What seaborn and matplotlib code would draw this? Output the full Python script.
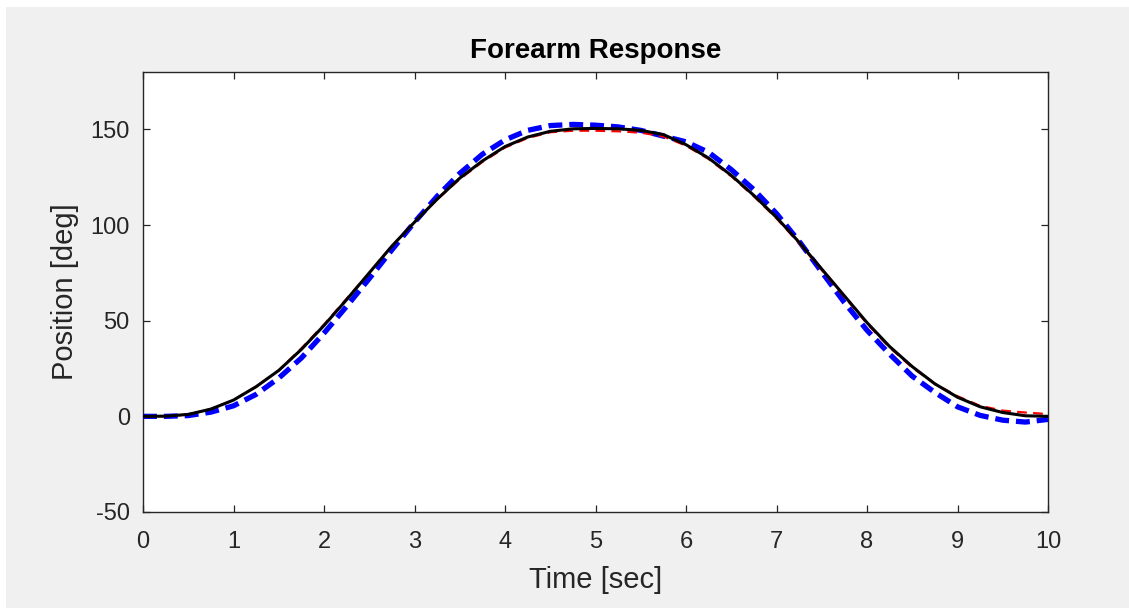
import matplotlib
matplotlib.use("Agg")
import matplotlib.pyplot as plt
import seaborn as sns
import pandas as pd
from matplotlib.patches import Rectangle

# ---- data ----
time_sec = [0.0, 0.25, 0.5, 0.75, 1.0, 1.25, 1.5, 1.75, 2.0, 2.25, 2.5, 2.75,
            3.0, 3.25, 3.5, 3.75, 4.0, 4.25, 4.5, 4.75, 5.0, 5.25, 5.5, 5.75,
            6.0, 6.25, 6.5, 6.75, 7.0, 7.25, 7.5, 7.75, 8.0, 8.25, 8.5, 8.75,
            9.0, 9.25, 9.5, 9.75, 10.0]

desired = [0.0, 0.1, 1.0, 3.8, 8.5, 15.5, 24.0, 35.0, 47.5, 61.0, 75.0, 89.0,
           101.5, 113.5, 124.5, 133.5, 141.0, 146.0, 149.0, 150.3, 150.5, 150.3, 149.5, 147.3,
           142.0, 135.0, 126.0, 115.5, 104.0, 91.0, 77.0, 63.0, 49.0, 36.5, 26.0, 17.0,
           10.0, 5.0, 2.0, 0.3, 0.0]

model = [0.0, 0.1, 1.0, 3.8, 8.5, 15.5, 24.0, 35.5, 48.0, 61.5, 75.0, 89.0,
         101.5, 113.5, 124.0, 133.0, 140.5, 145.5, 148.5, 149.3, 149.3, 149.0, 148.3, 146.3,
         141.5, 134.5, 125.5, 115.0, 103.5, 90.5, 76.5, 62.5, 48.5, 36.0, 25.5, 17.0,
         10.5, 5.5, 3.0, 2.0, 1.2]

measured = [0.0, 0.0, 0.4, 2.2, 5.5, 11.5, 20.0, 30.5, 43.5, 57.5, 72.0, 87.0,
            101.5, 115.0, 127.0, 137.0, 144.5, 149.5, 152.0, 152.6, 152.2, 151.3, 149.5, 146.5,
            143.5, 138.0, 129.0, 118.5, 106.0, 91.5, 75.5, 59.5, 45.0, 32.5, 21.0, 12.5,
            5.0, 0.5, -2.0, -3.0, -1.6]

title_text = "Forearm Response"
x_label = "Time [sec]"
y_label = "Position [deg]"
x_ticks = [0, 1, 2, 3, 4, 5, 6, 7, 8, 9, 10]
y_ticks = [-50, 0, 50, 100, 150]

df = pd.DataFrame({"t": time_sec, "desired": desired, "model": model,
                   "measured": measured})

sns.set_style("white")
plt.rcParams["font.family"] = ["Liberation Sans", "DejaVu Sans"]
plt.rcParams["lines.scale_dashes"] = False

W, H = 1129, 608
fig = plt.figure(figsize=(W / 100, H / 100), dpi=100, facecolor="white")
fig.patches.append(Rectangle((6 / W, 0), 1 - 6 / W, 1 - 7 / H,
                             transform=fig.transFigure, facecolor="#f0f0f0",
                             edgecolor="none", zorder=-10))

ax = fig.add_axes([143 / W, (H - 512) / H, (1048 - 143) / W, (512 - 72) / H])
ax.set_facecolor("white")

sns.lineplot(data=df, x="t", y="measured", ax=ax, color="#0000ff",
             linewidth=3.8, linestyle="--", zorder=3)
sns.lineplot(data=df, x="t", y="model", ax=ax, color="#ff0000",
             linewidth=1.6, linestyle="--", zorder=4)
sns.lineplot(data=df, x="t", y="desired", ax=ax, color="#000000",
             linewidth=2.2, zorder=5)

lines = ax.get_lines()
lines[0].set_dashes((10, 5))
lines[0].set_dash_capstyle("butt")
lines[1].set_dashes((7, 4.5))

ax.set_xlim(0, 10)
ax.set_ylim(-50, 180)
ax.set_xticks(x_ticks)
ax.set_yticks(y_ticks)
ax.set_xticklabels([str(v) for v in x_ticks])
ax.set_yticklabels([str(v) for v in y_ticks])

axcol = "#262626"
for s in ax.spines.values():
    s.set_visible(True)
    s.set_color(axcol)
    s.set_linewidth(1.0)
ax.tick_params(axis="both", which="both", direction="in", length=5,
               width=0.9, color=axcol, labelcolor=axcol, labelsize=17,
               top=True, right=True, bottom=True, left=True)
ax.tick_params(axis="x", pad=14)
ax.tick_params(axis="y", pad=9.5)

ax.set_xlabel(x_label, fontsize=21, color=axcol)
ax.set_ylabel(y_label, fontsize=21, color=axcol)
ax.xaxis.set_label_coords(0.5, -(566 - 512) / 440)
ax.yaxis.set_label_coords(-(143 - 79) / 905, 0.5)
ax.set_title(title_text, fontsize=20, fontweight="bold", color="black", pad=10.0)
ax.grid(False)

fig.savefig("out.png", dpi=100, facecolor=fig.get_facecolor())
